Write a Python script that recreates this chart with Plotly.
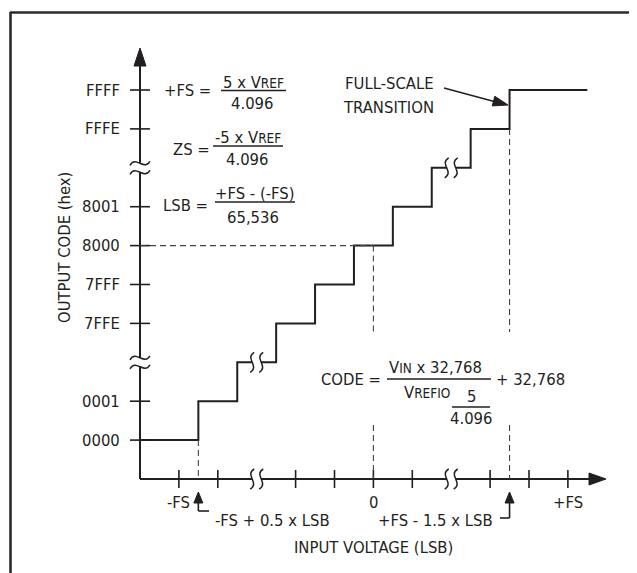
import plotly.graph_objects as go

# ideal transfer function, in LSB steps (x) and code steps (y)
step_x = [0, 1.5, 2.5, 3.5, 4.5, 5.5, 6.5, 7.5, 8.5, 9.5, 11.5]
step_y = [1, 2, 3, 4, 5, 6, 7, 8, 9, 10, 10]

x_ticks = [1, 2, 4, 5, 6, 7, 9, 10, 11]
x_label_pos = [1, 6, 11]
x_labels = ["-FS", "0", "+FS"]

y_ticks = [1, 2, 4, 5, 6, 7, 9, 10]
y_labels = ["0000", "0001", "7FFE", "7FFF", "8000", "8001", "FFFE", "FFFF"]

axis_breaks = [3, 8]
step_breaks = [(3, 3), (8, 8)]

mid_code = 6      # 8000 hex
zero_in = 6       # 0 LSB
first_step = 1.5  # -FS + 0.5 x LSB
last_step = 9.5   # +FS - 1.5 x LSB

INK = "#231f20"
FONT = "Liberation Sans Narrow, DejaVu Sans Condensed, Arial Narrow, sans-serif"
FS = 16.5

# one step = U pixels on both axes, origin at pixel (140, 479) of the reference
U = 38.9
W, H = 637, 573
PAGE = 8  # the page body margin pushes the plot this far right and down


def px(x):
    return (x - 140) / U


def py(y):
    return (479 - y) / U


def to_px(xd, yd):
    return 140 + xd * U, 479 - yd * U


def pt(p):
    return "%.4f,%.4f" % (px(p[0]), py(p[1]))


fig = go.Figure()

# staircase
fig.add_trace(go.Scatter(x=step_x, y=step_y, mode="lines", line_shape="hv",
                         line=dict(color=INK, width=2), hoverinfo="skip"))

# axes
fig.add_trace(go.Scatter(x=[0, 0, None, 0, px(592)], y=[py(64), 0, None, 0, 0],
                         mode="lines", line=dict(color=INK, width=2), hoverinfo="skip"))

# tick marks crossing the axes
tx, ty = [], []
for t in x_ticks:
    tx += [t, t, None]
    ty += [-9 / U, 9 / U, None]
for t in y_ticks:
    tx += [-10 / U, 10 / U, None]
    ty += [t, t, None]
fig.add_trace(go.Scatter(x=tx, y=ty, mode="lines", line=dict(color=INK, width=1.6),
                         hoverinfo="skip"))

# dashed guides
gap_lo, gap_hi = py(425), py(332)
dx = [0, zero_in, None,
      zero_in, zero_in, None, zero_in, zero_in, None,
      last_step, last_step, None, last_step, last_step, None,
      first_step, first_step]
dy = [mid_code, mid_code, None,
      mid_code, gap_hi, None, gap_lo, 0, None,
      9, gap_hi, None, gap_lo, 0, None,
      1, 0]
fig.add_trace(go.Scatter(x=dx, y=dy, mode="lines",
                         line=dict(color="#444444", width=1.1, dash="6px,4px"),
                         hoverinfo="skip"))

shapes = []


def line(p0, p1, w=1.6):
    shapes.append(dict(type="line", x0=px(p0[0]), y0=py(p0[1]), x1=px(p1[0]), y1=py(p1[1]),
                       line=dict(color=INK, width=w)))


def tri(tip, d, length, half):
    n = (d[0] ** 2 + d[1] ** 2) ** 0.5
    ux, uy = d[0] / n, d[1] / n
    bx, by = tip[0] - ux * length, tip[1] - uy * length
    a = (bx - uy * half, by + ux * half)
    b = (bx + uy * half, by - ux * half)
    shapes.append(dict(type="path", path="M%s L%s L%s Z" % (pt(tip), pt(a), pt(b)),
                       fillcolor=INK, line=dict(color=INK, width=1)))


def squiggle(cx, cy, vertical):
    curves = []
    for off in (-4.5, 4.5):
        if vertical:
            c = [(cx + off + 2, cy - 10), (cx + off - 8, cy - 4),
                 (cx + off + 8, cy + 4), (cx + off - 2, cy + 10)]
        else:
            c = [(cx - 10, cy + off + 2), (cx - 4, cy + off - 8),
                 (cx + 4, cy + off + 8), (cx + 10, cy + off - 2)]
        curves.append(c)
    a, b = curves
    fill = "M%s C%s %s %s L%s C%s %s %s Z" % (pt(a[0]), pt(a[1]), pt(a[2]), pt(a[3]),
                                             pt(b[3]), pt(b[2]), pt(b[1]), pt(b[0]))
    shapes.append(dict(type="path", path=fill, fillcolor="white", line=dict(width=0)))
    for c in curves:
        shapes.append(dict(type="path",
                           path="M%s C%s %s %s" % (pt(c[0]), pt(c[1]), pt(c[2]), pt(c[3])),
                           line=dict(color=INK, width=1.5)))


for b in axis_breaks:
    squiggle(*to_px(0, b), vertical=False)
    squiggle(*to_px(b, 0), vertical=True)
for bx_, by_ in step_breaks:
    squiggle(*to_px(bx_, by_), vertical=True)

# axis arrowheads
tri((140, 48), (0, -1), 18, 6)
tri((606, 479), (1, 0), 17, 6)

# pointers below the axis
fx, _ = to_px(first_step, 0)
lx, _ = to_px(last_step, 0)
tri((fx, 492), (0, -1), 11, 4.5)
line((fx, 502), (fx, 511))
line((fx, 511), (209, 511))
tri((lx, 492), (0, -1), 11, 4.5)
line((lx, 502), (lx, 518))
line((lx, 518), (500, 518))

# full-scale transition pointer
line((444, 88), (496, 102), 1.5)
tri((508, 105), (63, 17), 15, 5)

# fraction bars
for x0, x1, y in [(221, 286, 90.5), (213, 283, 146), (215, 295, 202),
                  (387, 491, 379), (452, 490, 407)]:
    line((x0, y), (x1, y), 1.4)

# frame (top and left edges only are inside the picture)
shapes.append(dict(type="line", x0=px(10), y0=py(12.5), x1=px(660), y1=py(12.5),
                   line=dict(color="#2b2b2b", width=2.6)))
shapes.append(dict(type="line", x0=px(10.5), y0=py(12), x1=px(10.5), y1=py(600),
                   line=dict(color="#2b2b2b", width=2.6)))

annotations = []


def text(x, y, s, anchor="center", size=FS, angle=0):
    annotations.append(dict(x=x, y=y, text=s, showarrow=False, xanchor=anchor,
                            yanchor="middle", textangle=angle,
                            font=dict(family=FONT, size=size, color=INK)))


small = "<span style='font-size:13.5px'>%s</span>"
low = "<span style='font-size:13.5px'><sub>%s</sub></span>"

for t, s in zip(y_ticks, y_labels):
    text(px(122), t, s, "right")
for t, s in zip(x_label_pos, x_labels):
    text(t, py(502), s)

text(px(213), py(90), "+FS =", "right")
text(px(253), py(82), "5 x V" + small % "REF")
text(px(252), py(103), "4.096")
text(px(212), py(149), "ZS =", "right")
text(px(248), py(137), "-5 x V" + small % "REF")
text(px(247), py(159), "4.096")
text(px(210), py(205), "LSB =", "right")
text(px(255), py(193), "+FS - (-FS)")
text(px(253), py(217), "65,536")

text(px(383), py(379), "CODE =", "right")
text(px(435), py(367), "V" + small % "IN" + " x 32,768")
text(px(494), py(379), "+ 32,768", "left")
text(px(427), py(392), "V" + small % "REFIO")
text(px(471), py(396), "5")
text(px(471), py(418), "4.096")

text(px(436), py(83), "FULL-SCALE", "right")
text(px(436), py(107), "TRANSITION", "right")

text(px(213), py(520), "-FS + 0.5 x LSB", "left")
text(px(495), py(520), "+FS - 1.5 x LSB", "right")
text(zero_in, py(547), "INPUT VOLTAGE (LSB)")
text(px(64), py(248), "OUTPUT CODE (hex)", angle=-90)

fig.update_layout(
    width=W, height=H, margin=dict(l=0, r=0, t=0, b=0),
    paper_bgcolor="white", plot_bgcolor="white", showlegend=False,
    xaxis=dict(range=[px(PAGE), px(PAGE + W)], visible=False, fixedrange=True),
    yaxis=dict(range=[py(PAGE + H), py(PAGE)], visible=False, fixedrange=True),
    shapes=shapes, annotations=annotations,
)

fig.write_html("out.html")
